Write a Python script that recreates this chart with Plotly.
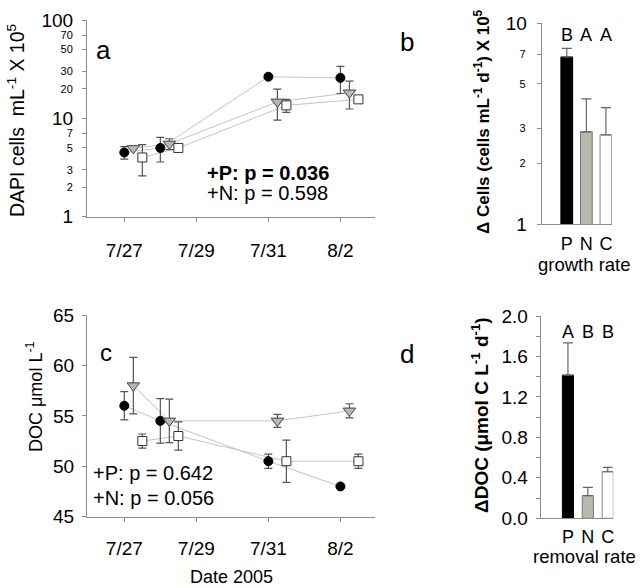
import plotly.graph_objects as go

# ---------------- data ----------------
days = [0, 1, 4, 6]                      # days after 7/27
date_tick_vals = [0, 2, 4, 6]
date_tick_labels = ["7/27", "7/29", "7/31", "8/2"]

# panel a: DAPI cells (x 10^5 mL^-1)
cells_P = [4.5, 5.0, 26.5, 25.8]
cells_P_err = [0.65, 1.4, 0.0, 7.9]
cells_N = [4.95, 5.5, 14.7, 18.2]
cells_N_err = [0.0, 0.7, 5.1, 5.75]
cells_C = [4.0, 5.0, 13.55, 15.6]
cells_C_err = [1.4, 0.0, 2.05, 0.0]

# panel c: DOC (umol L^-1)
doc_P = [56.0, 54.5, 50.5, 48.0]
doc_P_err = [1.4, 2.2, 0.7, 0.0]
doc_N = [58.0, 54.5, 54.5, 55.5]
doc_N_err = [2.8, 2.15, 0.65, 0.7]
doc_C = [52.5, 53.0, 50.5, 50.5]
doc_C_err = [0.7, 1.4, 2.1, 0.7]

# panel b: growth rate
treatments = ["P", "N", "C"]
growth = [6.8, 2.88, 2.78]
growth_err = [0.7, 1.32, 1.02]
growth_letters = ["B", "A", "A"]

# panel d: removal rate
removal = [1.415, 0.224, 0.46]
removal_err = [0.32, 0.082, 0.044]
removal_letters = ["A", "B", "B"]

log_major_a = [1, 10, 100]
log_minor_a = [2, 3, 5, 7, 20, 30, 50, 70]
log_major_b = [1, 10]
log_minor_b = [2, 3, 5, 7]
doc_ticks = [45, 50, 55, 60, 65]
removal_ticks = [0, 0.4, 0.8, 1.2, 1.6, 2.0]
removal_tick_labels = ["0.0", "0.4", "0.8", "1.2", "1.6", "2.0"]
removal_minor = [0.2, 0.6, 1.0, 1.4, 1.8]

# ---------------- styling ----------------
FONT = "Arial, Liberation Sans, sans-serif"
AXC = "#8c8c8c"
LINEC = "#c4c4c4"
ERRC = "#555555"
GRAYFILL = "#b8b8ac"
W, H = 640, 588

offsets = {"P": 0.0, "N": 0.25, "C": 0.5}
mstyle = {
    "P": dict(symbol="circle", size=9, color="black", line=dict(color="black", width=1)),
    "N": dict(symbol="triangle-down", size=11, color=GRAYFILL, line=dict(color="#444444", width=1)),
    "C": dict(symbol="square", size=9, color="white", line=dict(color="#333333", width=1)),
}
bar_fill = ["black", GRAYFILL, "white"]
bar_line = ["black", "#777777", "#888888"]


def px_x(p):
    return p / W


def px_y(p):
    return 1 - p / H


fig = go.Figure()

series_a = [("P", cells_P, cells_P_err), ("N", cells_N, cells_N_err), ("C", cells_C, cells_C_err)]
series_c = [("P", doc_P, doc_P_err), ("N", doc_N, doc_N_err), ("C", doc_C, doc_C_err)]

for (xa, ya, series) in [("x", "y", series_a), ("x3", "y3", series_c)]:
    for key, vals, errs in series:
        xs = [d + offsets[key] for d in days]
        fig.add_trace(go.Scatter(
            x=xs, y=vals, xaxis=xa, yaxis=ya, mode="lines",
            line=dict(color=LINEC, width=1), hoverinfo="skip"))
    for key, vals, errs in series:
        xs = [d + offsets[key] for d in days]
        fig.add_trace(go.Scatter(
            x=xs, y=vals, xaxis=xa, yaxis=ya, mode="markers",
            marker=mstyle[key],
            error_y=dict(type="data", array=errs, visible=True, color=ERRC, thickness=1.2, width=4)))

cat_x = list(range(len(treatments)))
fig.add_trace(go.Bar(
    x=cat_x, y=growth, xaxis="x2", yaxis="y2", width=0.6,
    marker=dict(color=bar_fill, line=dict(color=bar_line, width=1)),
    error_y=dict(type="data", array=growth_err, arrayminus=[0] * 3, symmetric=False,
                 visible=True, color="#666666", thickness=1.2, width=5)))
fig.add_trace(go.Bar(
    x=cat_x, y=removal, xaxis="x4", yaxis="y4", width=0.56,
    marker=dict(color=bar_fill, line=dict(color=bar_line, width=1)),
    error_y=dict(type="data", array=removal_err, arrayminus=[0] * 3, symmetric=False,
                 visible=True, color="#666666", thickness=1.2, width=5)))

axis_common = dict(showline=True, linecolor=AXC, linewidth=1, showgrid=False, zeroline=False,
                   automargin=False,
                   ticks="outside", tickcolor=AXC, ticklen=4, tickfont=dict(size=19, color="black", family=FONT))
overlay_common = dict(showline=False, showgrid=False, zeroline=False, automargin=False,
                      ticks="outside", tickcolor=AXC, ticklen=4,
                      tickfont=dict(size=11, color="black", family=FONT))

dom_x_left = [px_x(87), px_x(375)]
dom_y_a = [px_y(216.7), px_y(20)]
dom_y_b = [px_y(224), px_y(23.3)]
fig.update_layout(
    width=W, height=H, margin=dict(l=0, r=0, t=0, b=0, pad=0, autoexpand=False),
    paper_bgcolor="white", plot_bgcolor="white", showlegend=False,
    font=dict(family=FONT, color="black"),
    xaxis=dict(**axis_common, domain=dom_x_left, range=[-1.036, 6.96],
               tickvals=date_tick_vals, ticktext=date_tick_labels, anchor="y",
               ticklabelstandoff=12),
    yaxis=dict(**axis_common, domain=dom_y_a, type="log", range=[0, 2],
               tickvals=log_major_a, anchor="x", ticklabelstandoff=5),
    yaxis5=dict(**overlay_common, domain=dom_y_a, type="log", range=[0, 2], overlaying="y",
                side="left", anchor="x", tickvals=log_minor_a, ticklabelstandoff=7),
    xaxis3=dict(**axis_common, domain=dom_x_left, range=[-1.036, 6.96],
                tickvals=date_tick_vals, ticktext=date_tick_labels, anchor="y3",
                ticklabelstandoff=10),
    yaxis3=dict(**axis_common, domain=[px_y(516.7), px_y(315)], range=[45, 65],
                tickvals=doc_ticks, anchor="x3", ticklabelstandoff=4),
    xaxis2=dict(**{**axis_common, "ticks": "", "tickfont": dict(size=18, color="black", family=FONT)},
                domain=[px_x(541.7), px_x(612)], range=[-1.28, 2.31],
                tickvals=cat_x, ticktext=treatments, anchor="y2", ticklabelstandoff=3),
    yaxis2=dict(**axis_common, domain=dom_y_b, type="log", range=[0, 1],
                tickvals=log_major_b, anchor="x2", ticklabelstandoff=6),
    yaxis6=dict(**overlay_common, domain=dom_y_b, type="log", range=[0, 1], overlaying="y2",
                side="left", anchor="x2", tickvals=log_minor_b, ticklabelstandoff=9),
    xaxis4=dict(**{**axis_common, "ticks": "", "tickfont": dict(size=18, color="black", family=FONT)},
                domain=[px_x(540.7), px_x(613.3)], range=[-1.37, 2.28],
                tickvals=cat_x, ticktext=treatments, anchor="y4", ticklabelstandoff=2),
    yaxis4=dict(**axis_common, domain=[px_y(518.3), px_y(316)], range=[0, 2.0],
                tickvals=removal_ticks, ticktext=removal_tick_labels,
                minor=dict(tickvals=removal_minor, ticklen=4, tickcolor=AXC, ticks="outside"),
                anchor="x4", ticklabelstandoff=4),
)

# invisible helper traces so the overlay axes are drawn
fig.add_trace(go.Scatter(x=[None], y=[None], xaxis="x", yaxis="y5", showlegend=False, hoverinfo="skip"))
fig.add_trace(go.Scatter(x=[None], y=[None], xaxis="x2", yaxis="y6", showlegend=False, hoverinfo="skip"))

ann = []


def text(x, y, s, size, **kw):
    d = dict(x=px_x(x), y=px_y(y), xref="paper", yref="paper", text=s, showarrow=False,
             font=dict(size=size, family=FONT, color="black"), xanchor="center", yanchor="middle")
    d.update(kw)
    ann.append(d)


# panel letters
text(103, 50, "a", 26)
text(407, 42, "b", 26)
text(106, 353, "c", 24)
text(407, 354, "d", 26)

# y-axis titles
text(16, 120, "DAPI cells  mL<sup>-1</sup> X 10<sup>5</sup>", 19.5, textangle=-90)
text(34, 397, "DOC μmol L<sup>-1</sup>", 18, textangle=-90)
text(482, 122, "<b>Δ Cells (cells mL<sup>-1</sup> d<sup>-1</sup>) X 10<sup>5</sup></b>", 17, textangle=-90)
text(480, 415, "<b>ΔDOC (μmol C L<sup>-1</sup> d<sup>-1</sup>)</b>", 19, textangle=-90)

# x-axis titles
text(231, 577, "Date 2005", 18)
text(584, 264, "growth rate", 18.5)
text(584, 556, "removal rate", 18.5)

# statistics
text(205, 173, "<b>+P: p = 0.036</b>", 20, xanchor="left")
text(205, 193, "+N: p = 0.598", 20, xanchor="left")
text(91, 473, "+P: p = 0.642", 20, xanchor="left")
text(91, 498, "+N: p = 0.056", 20, xanchor="left")

fig.update_layout(annotations=ann)

# significance letters above bars
for i, l in enumerate(growth_letters):
    fig.add_annotation(x=cat_x[i], y=px_y(35), xref="x2", yref="paper", text=l, showarrow=False,
                       font=dict(size=18, family=FONT, color="black"), yanchor="middle")
for i, l in enumerate(removal_letters):
    fig.add_annotation(x=cat_x[i], y=px_y(332), xref="x4", yref="paper", text=l, showarrow=False,
                       font=dict(size=18, family=FONT, color="black"), yanchor="middle")

fig.write_html("out.html", config={"displayModeBar": False},
               post_script="document.body.style.margin='0px';")
